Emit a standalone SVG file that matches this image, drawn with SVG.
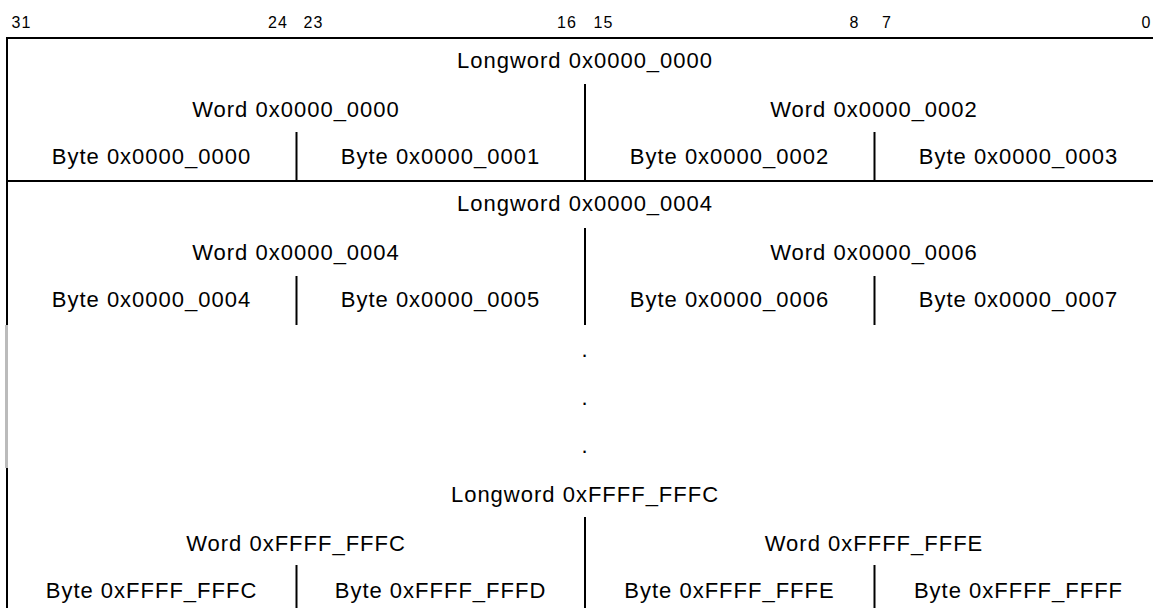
<svg xmlns="http://www.w3.org/2000/svg" width="1153" height="608" viewBox="0 0 1153 608">
<style>
  .ln { stroke: #000; stroke-width: 2; fill: none; }
  .gray { stroke: #bbbbbb; stroke-width: 3; fill: none; }
  text { font-family: "Liberation Sans", Arial, Helvetica, sans-serif; fill: #000; text-anchor: middle; }
  .lbl { font-size: 22px; letter-spacing: 1px; }
  .bit { font-size: 16px; letter-spacing: 1px; }
</style>
<rect x="0" y="0" width="1153" height="608" fill="#fff"/>
<g id="bit-numbers">
  <text class="bit" x="21.5" y="28">31</text>
  <text class="bit" x="278" y="28">24</text>
  <text class="bit" x="313.5" y="28">23</text>
  <text class="bit" x="567" y="28">16</text>
  <text class="bit" x="603.5" y="28">15</text>
  <text class="bit" x="854.5" y="28">8</text>
  <text class="bit" x="887" y="28">7</text>
  <text class="bit" x="1146.5" y="28">0</text>
</g>
<g id="connectors">
  <line class="ln" x1="6" y1="38" x2="1153" y2="38"/>
  <line class="ln" x1="7" y1="37" x2="7" y2="325"/>
  <line class="gray" x1="6.5" y1="325" x2="6.5" y2="468"/>
  <line class="ln" x1="7" y1="468" x2="7" y2="608"/>
  <line class="ln" x1="6" y1="181" x2="1153" y2="181"/>
  <line class="ln" x1="585" y1="84" x2="585" y2="181"/>
  <line class="ln" x1="296.5" y1="132" x2="296.5" y2="181"/>
  <line class="ln" x1="874.5" y1="132" x2="874.5" y2="181"/>
  <line class="ln" x1="585" y1="228" x2="585" y2="325"/>
  <line class="ln" x1="296.5" y1="276" x2="296.5" y2="325"/>
  <line class="ln" x1="874.5" y1="276" x2="874.5" y2="325"/>
  <line class="ln" x1="585" y1="517" x2="585" y2="608"/>
  <line class="ln" x1="296.5" y1="565" x2="296.5" y2="608"/>
  <line class="ln" x1="874.5" y1="565" x2="874.5" y2="608"/>
</g>
<g id="group-0000">
  <text class="lbl" x="585" y="68">Longword 0x0000_0000</text>
  <text class="lbl" x="296" y="117">Word 0x0000_0000</text>
  <text class="lbl" x="874" y="117">Word 0x0000_0002</text>
  <text class="lbl" x="151.5" y="164">Byte 0x0000_0000</text>
  <text class="lbl" x="440.5" y="164">Byte 0x0000_0001</text>
  <text class="lbl" x="729.5" y="164">Byte 0x0000_0002</text>
  <text class="lbl" x="1018.5" y="164">Byte 0x0000_0003</text>
</g>
<g id="group-0004">
  <text class="lbl" x="585" y="211">Longword 0x0000_0004</text>
  <text class="lbl" x="296" y="260">Word 0x0000_0004</text>
  <text class="lbl" x="874" y="260">Word 0x0000_0006</text>
  <text class="lbl" x="151.5" y="307">Byte 0x0000_0004</text>
  <text class="lbl" x="440.5" y="307">Byte 0x0000_0005</text>
  <text class="lbl" x="729.5" y="307">Byte 0x0000_0006</text>
  <text class="lbl" x="1018.5" y="307">Byte 0x0000_0007</text>
</g>
<g id="ellipsis">
  <text class="lbl" x="585" y="357">.</text>
  <text class="lbl" x="585" y="405">.</text>
  <text class="lbl" x="585" y="453">.</text>
</g>
<g id="group-FFFC">
  <text class="lbl" x="585" y="502">Longword 0xFFFF_FFFC</text>
  <text class="lbl" x="296" y="551">Word 0xFFFF_FFFC</text>
  <text class="lbl" x="874" y="551">Word 0xFFFF_FFFE</text>
  <text class="lbl" x="151.5" y="598">Byte 0xFFFF_FFFC</text>
  <text class="lbl" x="440.5" y="598">Byte 0xFFFF_FFFD</text>
  <text class="lbl" x="729.5" y="598">Byte 0xFFFF_FFFE</text>
  <text class="lbl" x="1018.5" y="598">Byte 0xFFFF_FFFF</text>
</g>
</svg>
